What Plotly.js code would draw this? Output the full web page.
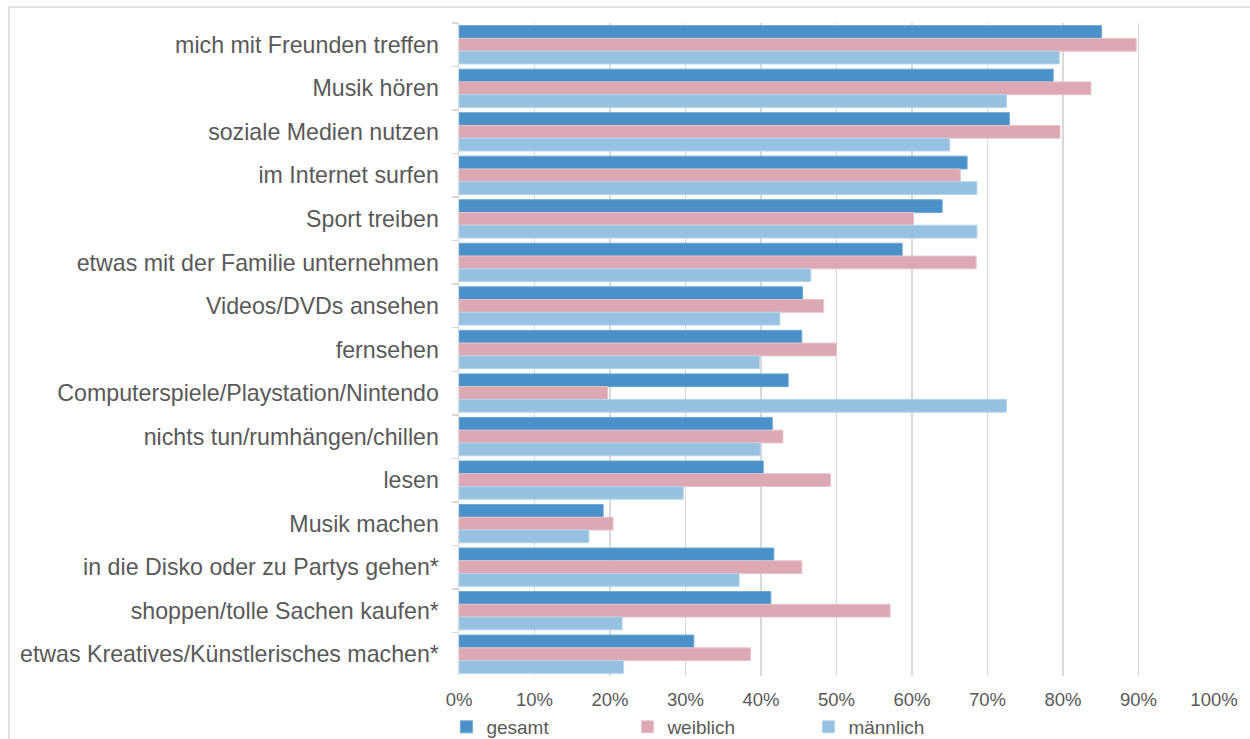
<!DOCTYPE html>
<html>
<head>
<meta charset="utf-8">
<script src="https://cdn.plot.ly/plotly-3.0.1.min.js"></script>
<style>
html, body { margin: 0; padding: 0; background: #ffffff; }
#chart { width: 1250px; height: 739px; }
</style>
</head>
<body>
<div id="chart"></div>
<script>
const categories = [
  "mich mit Freunden treffen",
  "Musik hören",
  "soziale Medien nutzen",
  "im Internet surfen",
  "Sport treiben",
  "etwas mit der Familie unternehmen",
  "Videos/DVDs ansehen",
  "fernsehen",
  "Computerspiele/Playstation/Nintendo",
  "nichts tun/rumhängen/chillen",
  "lesen",
  "Musik machen",
  "in die Disko oder zu Partys gehen*",
  "shoppen/tolle Sachen kaufen*",
  "etwas Kreatives/Künstlerisches machen*"
];
const gesamt    = [85.1, 78.7, 72.9, 67.3, 64.0, 58.7, 45.5, 45.4, 43.6, 41.5, 40.3, 19.1, 41.7, 41.3, 31.1];
const weiblich  = [89.7, 83.7, 79.6, 66.4, 60.2, 68.5, 48.3, 50.0, 19.7, 42.9, 49.2, 20.4, 45.4, 57.1, 38.6];
const maennlich = [79.5, 72.5, 65.0, 68.6, 68.6, 46.6, 42.5, 39.8, 72.5, 39.9, 29.7, 17.2, 37.1, 21.6, 21.8];
const seriesNames = ["gesamt", "weiblich", "männlich"];
const xTickVals = [0, 10, 20, 30, 40, 50, 60, 70, 80, 90, 100];
const xTickText = ["0%", "10%", "20%", "30%", "40%", "50%", "60%", "70%", "80%", "90%", "100%"];

const colors = ["#4A90C9", "#DCA8B3", "#97C1E1"];
const edge = ["#6FA8D6", "#E8C3CB", "#B5D4EC"];
const seriesData = [gesamt, weiblich, maennlich];

const traces = seriesData.map((vals, i) => ({
  type: "bar",
  orientation: "h",
  name: seriesNames[i],
  y: categories,
  x: vals,
  marker: { color: colors[i], line: { color: edge[i], width: 1 } },
  hoverinfo: "skip"
}));

const L = 458.6, R = 36.2, T = 23, B = 63;
const W = 1250, H = 739;
const pw = W - L - R, ph = H - T - B;
const px2x = p => (p - L) / pw;
const py2y = p => (H - B - p) / ph;

const layout = {
  width: W,
  height: H,
  margin: { l: L, r: R, t: T, b: B, pad: 0, autoexpand: false },
  paper_bgcolor: "#ffffff",
  plot_bgcolor: "#ffffff",
  font: { family: "Liberation Sans, Arial, sans-serif", color: "#595959" },
  barmode: "group",
  bargap: 0.12,
  bargroupgap: 0,
  showlegend: true,
  legend: {
    orientation: "h",
    x: px2x(446),
    xanchor: "left",
    y: py2y(727),
    yanchor: "middle",
    font: { size: 19, color: "#595959" },
    entrywidth: 136,
    entrywidthmode: "pixels",
    itemclick: false,
    traceorder: "normal",
    bgcolor: "rgba(0,0,0,0)"
  },
  xaxis: {
    range: [0, 100],
    tickmode: "array",
    tickvals: xTickVals,
    ticktext: xTickText,
    showgrid: true,
    gridcolor: "#D9D9D9",
    gridwidth: 1.5,
    zeroline: false,
    showline: false,
    ticks: "",
    ticklabelstandoff: 10,
    automargin: false,
    tickfont: { size: 18.5, color: "#595959" },
    fixedrange: true
  },
  yaxis: {
    type: "category",
    autorange: "reversed",
    showline: true,
    linecolor: "#D9D9D9",
    linewidth: 1.5,
    ticks: "outside",
    tickson: "boundaries",
    ticklen: 6,
    tickcolor: "#D9D9D9",
    tickwidth: 1.5,
    ticklabelstandoff: 14,
    automargin: false,
    showgrid: false,
    tickfont: { size: 23.2, color: "#595959" },
    fixedrange: true
  },
  shapes: [
    {
      type: "rect", xref: "paper", yref: "paper",
      x0: px2x(8.5), x1: px2x(1300),
      y0: py2y(800), y1: py2y(7),
      line: { color: "#D9D9D9", width: 1.5 },
      fillcolor: "rgba(0,0,0,0)",
      layer: "below"
    }
  ]
};

Plotly.newPlot("chart", traces, layout, { displayModeBar: false, staticPlot: true });
</script>
</body>
</html>
